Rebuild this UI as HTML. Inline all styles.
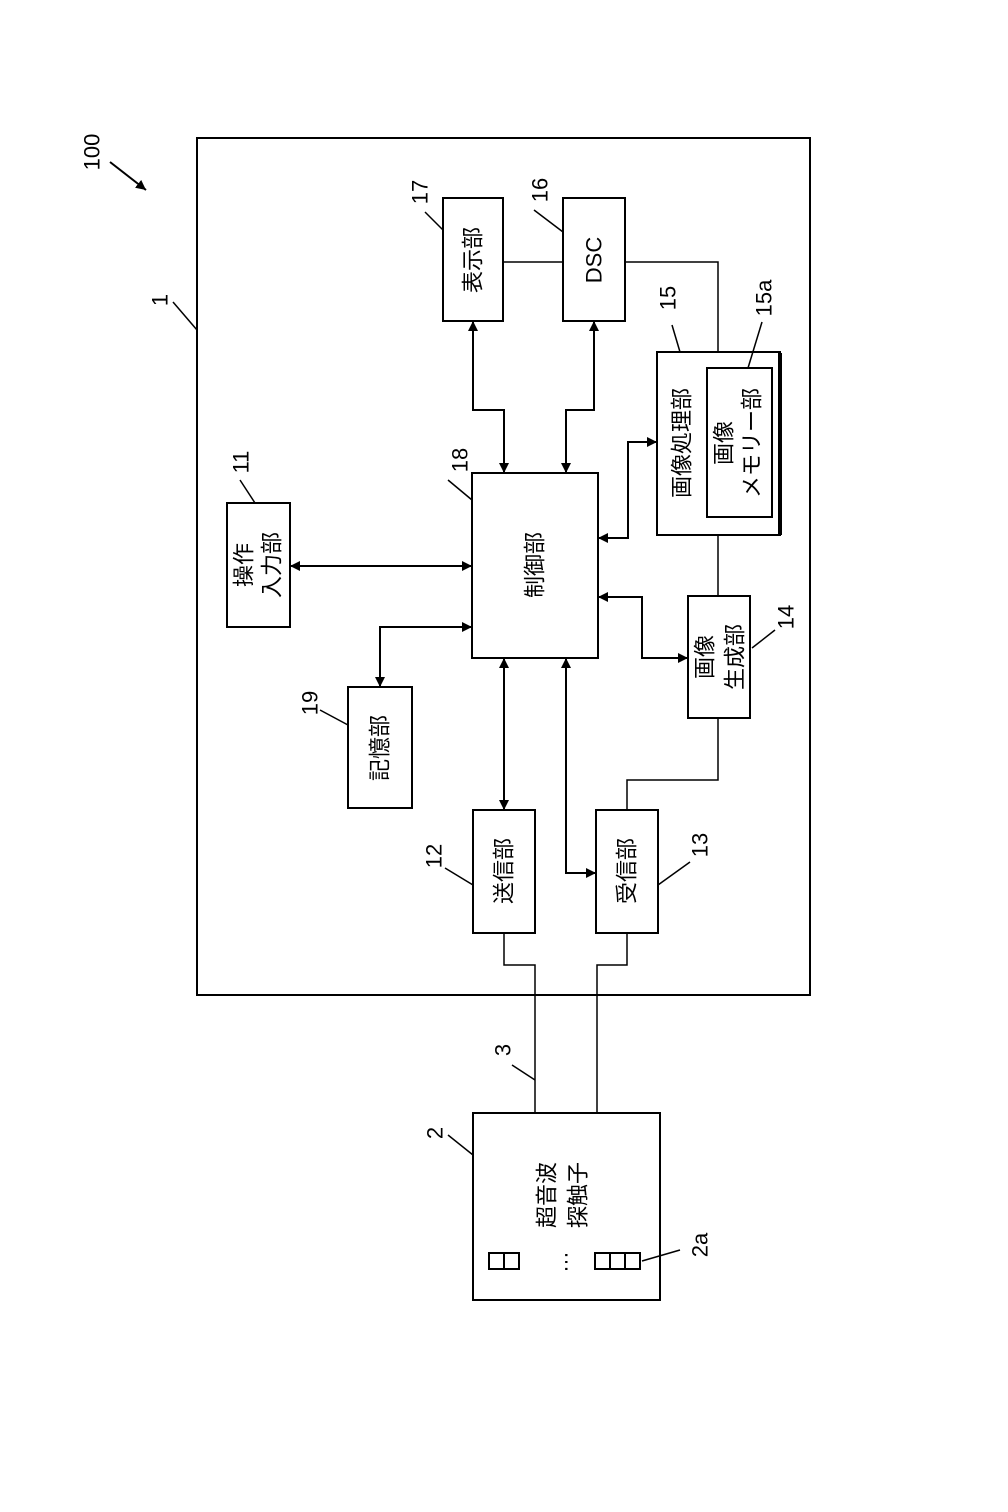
<!DOCTYPE html>
<html><head><meta charset="utf-8"><style>
html,body{margin:0;padding:0;background:#fff}
svg{display:block}
text{font-family:"Liberation Sans","Noto Sans CJK JP",sans-serif;fill:#000}
</style></head><body>
<svg width="1008" height="1512" viewBox="0 0 1008 1512" xmlns="http://www.w3.org/2000/svg">
<defs>
<marker id="a" viewBox="0 0 10 10" refX="10" refY="5" markerWidth="10" markerHeight="10" markerUnits="userSpaceOnUse" orient="auto-start-reverse"><path d="M0,0 L10,5 L0,10 z" fill="#000"/></marker>
</defs>
<g fill="none" stroke="#000" stroke-width="2">
<rect x="197" y="138" width="613" height="857"/>
<rect x="443" y="198" width="60" height="123"/>
<rect x="563" y="198" width="62" height="123"/>
<rect x="657" y="352" width="123" height="183"/>
<line x1="780" y1="353" x2="780" y2="535" stroke-width="4"/>
<rect x="707" y="368" width="65" height="149"/>
<rect x="472" y="473" width="126" height="185"/>
<rect x="227" y="503" width="63" height="124"/>
<rect x="348" y="687" width="64" height="121"/>
<rect x="688" y="596" width="62" height="122"/>
<rect x="473" y="810" width="62" height="123"/>
<rect x="596" y="810" width="62" height="123"/>
<rect x="473" y="1113" width="187" height="187"/>
<!-- 2a elements -->
<rect x="489" y="1253" width="15" height="16"/><rect x="504" y="1253" width="15" height="16"/>
<rect x="595" y="1253" width="15" height="16"/><rect x="610" y="1253" width="15" height="16"/><rect x="625" y="1253" width="15" height="16"/>
</g>
<g fill="none" stroke="#000" stroke-width="1.5">
<polyline points="503,262 563,262"/>
<polyline points="625,262 718,262 718,352"/>
<polyline points="718,535 718,596"/>
<polyline points="718,718 718,780 627,780 627,810"/>
<polyline points="504,933 504,965 535,965 535,1113"/>
<polyline points="627,933 627,965 597,965 597,1113"/>
<!-- leaders -->
<line x1="173" y1="302" x2="197" y2="330"/>
<line x1="425" y1="212" x2="443" y2="230"/>
<line x1="534" y1="210" x2="563" y2="232"/>
<line x1="672" y1="325" x2="680" y2="352"/>
<line x1="762" y1="322" x2="748" y2="368"/>
<line x1="448" y1="480" x2="472" y2="500"/>
<line x1="240" y1="480" x2="255" y2="503"/>
<line x1="320" y1="710" x2="348" y2="725"/>
<line x1="752" y1="648" x2="775" y2="630"/>
<line x1="445" y1="868" x2="473" y2="885"/>
<line x1="658" y1="885" x2="690" y2="862"/>
<line x1="512" y1="1065" x2="535" y2="1080"/>
<line x1="448" y1="1135" x2="473" y2="1155"/>
<line x1="642" y1="1261" x2="680" y2="1250"/>
</g>
<g fill="none" stroke="#000" stroke-width="2">
<line x1="110" y1="162" x2="146" y2="190" marker-end="url(#a)"/>
<polyline points="473,321 473,410 504,410 504,473" marker-start="url(#a)" marker-end="url(#a)"/>
<polyline points="594,321 594,410 566,410 566,473" marker-start="url(#a)" marker-end="url(#a)"/>
<polyline points="598,538 628,538 628,442 657,442" marker-start="url(#a)" marker-end="url(#a)"/>
<polyline points="598,597 642,597 642,658 688,658" marker-start="url(#a)" marker-end="url(#a)"/>
<line x1="290" y1="566" x2="472" y2="566" marker-start="url(#a)" marker-end="url(#a)"/>
<polyline points="472,627 380,627 380,687" marker-start="url(#a)" marker-end="url(#a)"/>
<line x1="504" y1="658" x2="504" y2="810" marker-start="url(#a)" marker-end="url(#a)"/>
<polyline points="566,658 566,873 596,873" marker-start="url(#a)" marker-end="url(#a)"/>
</g>
<g font-size="22" text-anchor="middle" dominant-baseline="central">
<text transform="translate(473,260) rotate(-90)">表示部</text>
<text transform="translate(594,260) rotate(-90)">DSC</text>
<text transform="translate(682,443) rotate(-90)">画像処理部</text>
<text transform="translate(724,443) rotate(-90)">画像</text>
<text transform="translate(752,443) rotate(-90)">メモリー部</text>
<text transform="translate(535,565) rotate(-90)">制御部</text>
<text transform="translate(244,565) rotate(-90)">操作</text>
<text transform="translate(272,565) rotate(-90)">入力部</text>
<text transform="translate(380,748) rotate(-90)">記憶部</text>
<text transform="translate(705,657) rotate(-90)">画像</text>
<text transform="translate(735,657) rotate(-90)">生成部</text>
<text transform="translate(504,871) rotate(-90)">送信部</text>
<text transform="translate(627,871) rotate(-90)">受信部</text>
<text transform="translate(547,1195) rotate(-90)">超音波</text>
<text transform="translate(578,1195) rotate(-90)">探触子</text>
<text transform="translate(560,1262) rotate(-90)">…</text>
</g>
<g font-size="22" text-anchor="middle" dominant-baseline="central">
<text transform="translate(92,152) rotate(-90)">100</text>
<text transform="translate(160,300) rotate(-90)">1</text>
<text transform="translate(420,192) rotate(-90)">17</text>
<text transform="translate(540,190) rotate(-90)">16</text>
<text transform="translate(668,298) rotate(-90)">15</text>
<text transform="translate(764,298) rotate(-90)">15a</text>
<text transform="translate(460,460) rotate(-90)">18</text>
<text transform="translate(241,462) rotate(-90)">11</text>
<text transform="translate(310,703) rotate(-90)">19</text>
<text transform="translate(786,617) rotate(-90)">14</text>
<text transform="translate(434,856) rotate(-90)">12</text>
<text transform="translate(700,845) rotate(-90)">13</text>
<text transform="translate(503,1050) rotate(-90)">3</text>
<text transform="translate(435,1133) rotate(-90)">2</text>
<text transform="translate(700,1245) rotate(-90)">2a</text>
</g>
</svg>
</body></html>
